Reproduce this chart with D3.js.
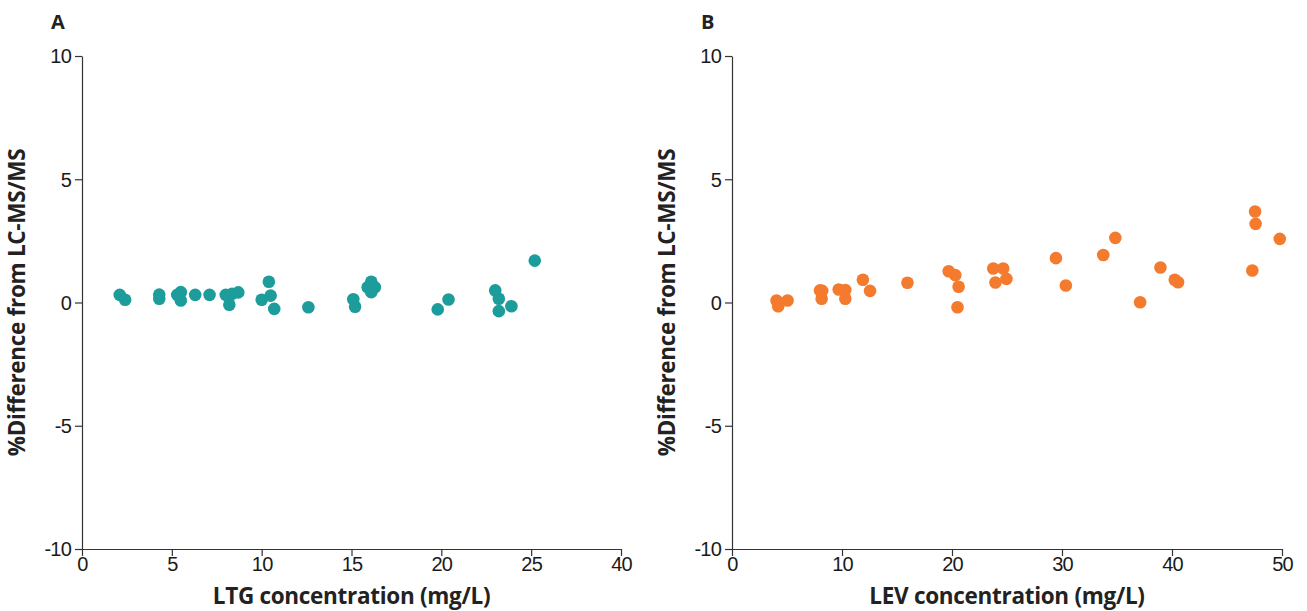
<!DOCTYPE html>
<html>
<head>
<meta charset="utf-8">
<script src="https://cdn.jsdelivr.net/npm/d3@7"></script>
<style>
  body { margin: 0; background: #fff; }
  svg { font-family: "Open Sans", "Noto Sans", sans-serif; }
  .tick text { font-size: 20px; fill: #1a1a1a; letter-spacing: -0.8px; }
  .axis path, .axis line { stroke: #333; stroke-width: 1.2; }
  .title { font-size: 22.5px; font-weight: bold; fill: #222; letter-spacing: -0.3px; }
  .panel { font-size: 20px; font-weight: bold; fill: #222; }
</style>
</head>
<body>
<div id="chart"></div>
<script>
const svgWidth = 1307;
const svgHeight = 611;

// panel A: lamotrigine
const ltgConc = [2.1, 2.4, 4.3, 4.3, 5.3, 5.5, 5.5, 6.3, 7.1, 8.0, 8.2, 8.35, 8.7,
  10.0, 10.4, 10.5, 10.7, 12.6, 15.1, 15.2, 15.9, 16.1, 16.3, 16.1, 19.8, 20.4,
  23.0, 23.2, 23.2, 23.9, 25.2];
const ltgDiff = [0.31, 0.11, 0.32, 0.15, 0.31, 0.42, 0.08, 0.31, 0.31, 0.31, -0.09, 0.35, 0.41,
  0.11, 0.84, 0.28, -0.26, -0.19, 0.13, -0.17, 0.62, 0.84, 0.62, 0.42, -0.28, 0.12,
  0.49, 0.15, -0.35, -0.15, 1.70];
const ltgTicks = [0, 5, 10, 15, 20, 25, 30];
const ltgTickLabels = ["0", "5", "10", "15", "20", "25", "40"];

// panel B: levetiracetam
const levConc = [4.05, 4.2, 5.05, 8.0, 8.2, 8.15, 9.7, 10.3, 10.3, 11.9, 12.55, 15.95,
  19.7, 20.3, 20.6, 20.5, 23.75, 24.65, 23.95, 24.95, 29.45, 30.35, 33.75, 34.85,
  37.1, 38.95, 40.25, 40.55, 47.55, 47.6, 47.3, 49.8];
const levDiff = [0.08, -0.15, 0.08, 0.49, 0.47, 0.15, 0.53, 0.51, 0.15, 0.92, 0.47, 0.80,
  1.27, 1.11, 0.64, -0.19, 1.38, 1.38, 0.81, 0.96, 1.80, 0.69, 1.93, 2.62,
  0.01, 1.42, 0.92, 0.82, 3.69, 3.19, 1.30, 2.58];
const levTicks = [0, 10, 20, 30, 40, 50];

const yTicks = [-10, -5, 0, 5, 10];

const svg = d3.select("#chart")
  .append("svg")
  .attr("width", svgWidth)
  .attr("height", svgHeight);

const y = d3.scaleLinear().domain([-10, 10]).range([549, 56]);

function drawPanel(opts) {
  const x = d3.scaleLinear().domain(opts.domain).range(opts.range);

  const g = svg.append("g");

  g.append("g")
    .attr("class", "axis")
    .attr("transform", "translate(" + opts.range[0] + ",0)")
    .call(d3.axisLeft(y).tickValues(yTicks).tickSize(7).tickSizeOuter(0).tickPadding(4)
      .tickFormat(d => String(d)))
    .call(a => a.selectAll(".tick text").attr("dy", "0.34em"));

  g.append("g")
    .attr("class", "axis")
    .attr("transform", "translate(0,549)")
    .call(d3.axisBottom(x).tickValues(opts.ticks).tickSize(7).tickSizeOuter(0).tickPadding(1)
      .tickFormat((d, i) => opts.labels[i]));

  g.selectAll("circle")
    .data(opts.xs)
    .enter().append("circle")
    .attr("cx", d => x(d))
    .attr("cy", (d, i) => y(opts.ys[i]))
    .attr("r", 6.3)
    .style("fill", opts.color);

  g.append("text")
    .attr("class", "title")
    .attr("x", (opts.range[0] + opts.range[1]) / 2)
    .attr("y", 604)
    .attr("text-anchor", "middle")
    .text(opts.xTitle);

  g.append("text")
    .attr("class", "title")
    .attr("transform", "translate(" + (opts.range[0] - 57) + "," + y(0) + ") rotate(-90)")
    .attr("text-anchor", "middle")
    .text("%Difference from LC-MS/MS");

  g.append("text")
    .attr("class", "panel")
    .attr("x", opts.range[0] - 31)
    .attr("y", 29)
    .text(opts.letter);
}

drawPanel({
  letter: "A", domain: [0, 30], range: [82, 621],
  ticks: ltgTicks, labels: ltgTickLabels,
  xs: ltgConc, ys: ltgDiff, color: "#1c9d9b",
  xTitle: "LTG concentration (mg/L)"
});

drawPanel({
  letter: "B", domain: [0, 50], range: [732, 1282],
  ticks: levTicks, labels: levTicks.map(String),
  xs: levConc, ys: levDiff, color: "#f47a2e",
  xTitle: "LEV concentration (mg/L)"
});
</script>
</body>
</html>
